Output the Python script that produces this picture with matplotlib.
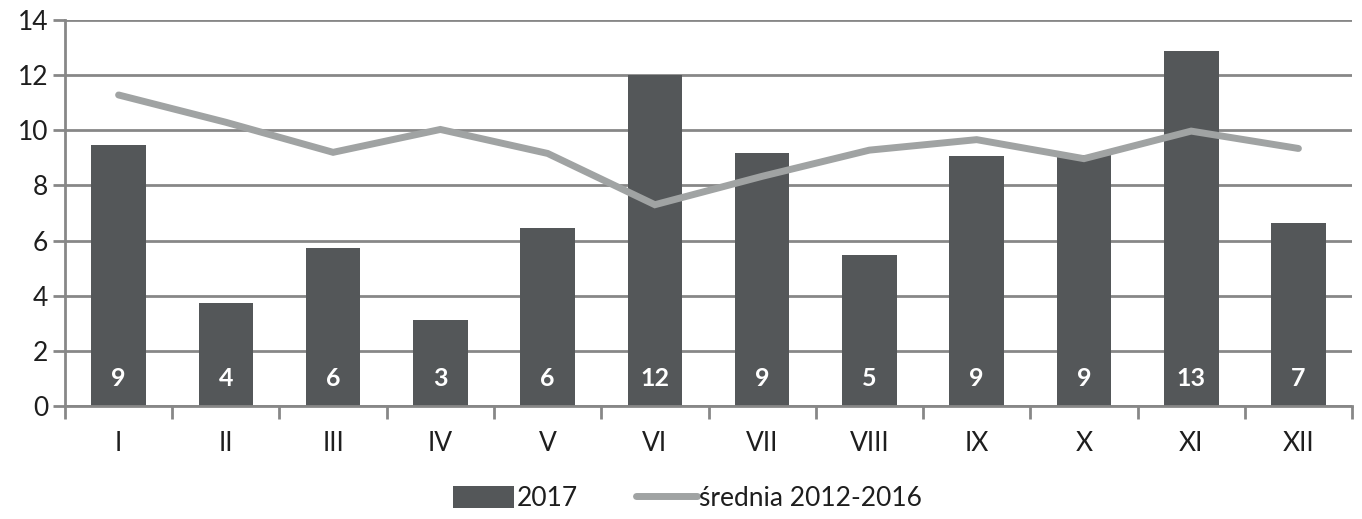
import matplotlib
matplotlib.use("Agg")
import matplotlib.pyplot as plt
import numpy as np

months = ["I", "II", "III", "IV", "V", "VI", "VII", "VIII", "IX", "X", "XI", "XII"]
values_2017 = [9.46, 3.73, 5.73, 3.11, 6.46, 12.0, 9.19, 5.46, 9.08, 9.1, 12.89, 6.65]
labels_2017 = ["9", "4", "6", "3", "6", "12", "9", "5", "9", "9", "13", "7"]
avg_2012_2016 = [11.28, 10.29, 9.2, 10.03, 9.16, 7.3, 8.33, 9.28, 9.66, 8.97, 9.97, 9.34]

plt.rcParams['font.family'] = ['Lato', 'DejaVu Sans']

bar_color = '#545759'
line_color = '#a0a3a3'
grid_color = '#878787'
text_color = '#1e1e1e'

fig = plt.figure(figsize=(13.62, 5.19), dpi=100)
ax = fig.add_axes([0.0477, 0.2177, 0.945, 0.7438])

x = np.arange(len(months))
bars = ax.bar(x, values_2017, width=0.51, color=bar_color, zorder=2, label='2017')
line, = ax.plot(x, avg_2012_2016, color=line_color, lw=5, solid_capstyle='round',
                solid_joinstyle='miter', zorder=3, label='średnia 2012-2016')

for xi, lab in zip(x, labels_2017):
    ax.text(xi, 1.0, lab, ha='center', va='center', color='white',
            fontsize=18, fontweight='bold', zorder=4)

ax.set_xlim(-0.5, len(months) - 0.5)
ax.set_ylim(0, 14)
ax.set_yticks(range(0, 15, 2))
ax.yaxis.grid(True, color=grid_color, lw=2, zorder=0)
ax.set_axisbelow(True)

ax.set_xticks(x)
ax.set_xticklabels(months)
ax.set_xticks(np.arange(-0.5, len(months)), minor=True)
ax.tick_params(axis='x', which='major', length=0, pad=18, labelsize=19, labelcolor=text_color)
ax.tick_params(axis='x', which='minor', length=9, width=2, color=grid_color)
ax.tick_params(axis='y', length=9, width=2, color=grid_color, labelsize=19,
               labelcolor=text_color, pad=3)

for side in ['top', 'right']:
    ax.spines[side].set_visible(False)
ax.spines['left'].set_color(grid_color)
ax.spines['left'].set_linewidth(2)
ax.spines['bottom'].set_color(grid_color)
ax.spines['bottom'].set_linewidth(2)

leg = fig.legend([bars, line], ['2017', 'średnia 2012-2016'], loc='lower center',
                 bbox_to_anchor=(0.505, -0.03), ncol=2, frameon=False,
                 fontsize=19, handlelength=2.3, handleheight=0.9, columnspacing=2.2,
                 handletextpad=0.1)
for t in leg.get_texts():
    t.set_color(text_color)

fig.savefig("out.png", dpi=100)
